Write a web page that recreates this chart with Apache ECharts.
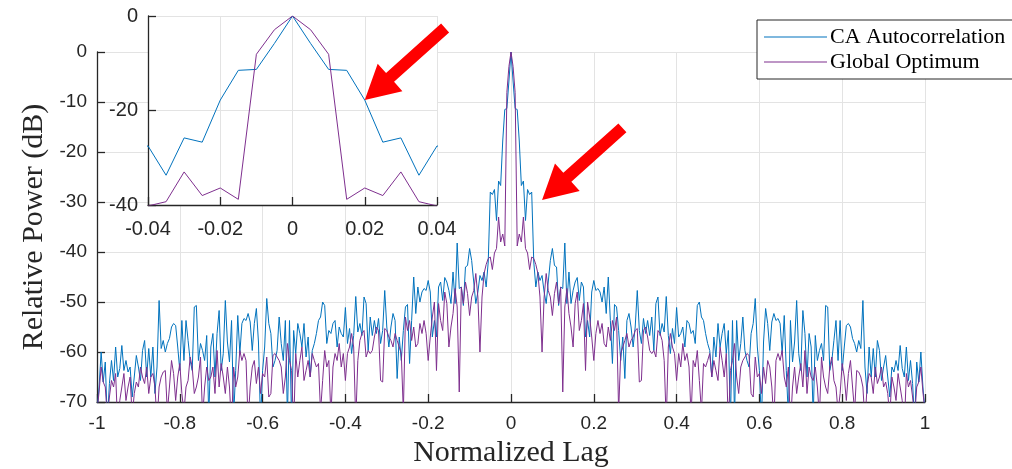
<!DOCTYPE html>
<html><head><meta charset="utf-8">
<script src="https://cdn.jsdelivr.net/npm/echarts@6/dist/echarts.min.js"></script>
<style>html,body{margin:0;padding:0;background:#fff}#c{width:1012px;height:469px}</style>
</head><body><div id="c"></div>
<script>
// ---- data ----
const seriesNames = ['CA Autocorrelation', 'Global Optimum'];
const seriesColors = ['#0072BD', '#7E2F8E'];
const lagStep = 0.005;          // sample spacing in normalized lag
const halfCount = 200;          // samples on each side of zero lag
// one-sided relative power (dB) for lag = 0, 0.005, ..., 1 ; |autocorrelation| is symmetric in lag
const caHalfDb = [0,-5.8,-11.3,-11.5,-17.8,-26.7,-25.8,-33.7,-27.5,-28.5,-28,
-42,-47,-44,-45.7,-44.7,-48,-50.3,-46,-41.7,-39.3,
-42.7,-43,-50.7,-47,-47.3,-38.2,-50.3,-44,-50.3,-47.7,
-46,-45.1,-49.7,-46,-47,-57,-53.7,-57,-48,-45.7,
-47.7,-47.3,-48,-50,-47,-52.3,-45,-53.7,-62.3,-50.5,
-51,-55.7,-61.7,-57,-65.3,-53.7,-52.3,-55,-59,-55,
-47.7,-55.7,-58.3,-53.3,-56.3,-53.7,-56.7,-53,-59.7,-50.3,
-49,-56.7,-54.3,-56,-48.9,-56.7,-60.3,-55.3,-58.3,-51.1,
-57,-56.3,-55,-59,-53.7,-54.3,-56.3,-55.7,-58.3,-50.7,
-50,-53,-53.7,-56.3,-58.3,-59.7,-65,-57,-61,
-54.3,-59,-56.3,-54.3,-60.3,-55.7,-74,-53.7,-73,-53.7,-61.7,-58.3,-53,-59.7,-61.7,-63,-56.3,-54.3,-49.3,-59,-63.7,-74,-58,-51.3,-54.3,-59.7,-54,-52.3,-53.7,-53.3,-54.3,-60.3,-52.7,-63.7,-73,-53.7,
-62,-58,
-49.7,-60.3,-63.7,-51.7,-56.3,-65,-56.3,-59,-73,-56.7,-61.7,-59.7,-58.3,-61.7,-50.7,-51,-63.7,-61.7,-57.7,-53.7,-61.7,-53.7,-63.7,-59,-54.7,-54.3,-55,-57.3,-58.3,-60,-57.7,-59.3,-49.7,-63,-68.3,-59,-65,-59.3,-65,-57.7,-59.7,-65.7,-63,-60.7,-65,-69,-63,-64,-61.7,-63.7,-58.7,-63.3,-65,-59,-65.7,-61.7,-66.3,-74,
-62,-66,-60,-67,-72];
const goHalfDb = [0,-2.9,-8.1,-38.8,-36.4,-38,-33,-39.3,-40.2,-43.5,-41,
-41.3,-42.5,-44.3,-49,-60,-49,-44.3,-47.7,-49,-52.7,
-48.3,-46,-50.3,-47,-68,-51,-47.3,-52.3,-55,-59,
-50.3,-48,-55.7,-53.7,-50.3,-63.7,-50,-53,-57,-61.7,
-56.3,-53.7,-56.3,-54.3,-58.3,-59,-55,-57.7,-53.7,-55.7,
-53,-72,-60.3,-59,-57.7,-56.3,-59,-57.7,-57,-55.7,
-55.3,-66,-65.7,-55.7,-55,-57,-59.7,-60.3,-59.7,-61,
-55.7,-56.3,-57.7,-61.7,-74,-59,-56.3,-59,-60.3,-65.7,
-60.3,-63,-58.3,-61.7,-60.3,-63,-73,-61.7,-63,-59.7,
-65.7,-72,-62.3,-63,-61.7,-60.3,-65,-61.7,-63.7,-65.7,
-59,-61.7,-65,-60.3,-75,-63.7,-61.7,-58.3,-65,-68.3,
-63,-61.7,-61,-60.3,-60.7,-68.3,-69,-61,-65,-64.3,
-68.3,-63,-66.3,-61.7,-63,-67,-74,-61.7,-60.3,-61.7,
-59.7,-65,-67,-63,-75,-67,-63,-68.3,-65,-62.3,
-67,-59.7,-68.3,-63,-65,-65.7,-63,-67,-73,-61,
-65,-67,-68.3,-63,-61,-65.7,-67,-72,-68.3,-62.3,
-65,-69.7,-64.3,-61.7,-67,-72,-63.7,-64,-65,-67,
-74,-67,-64.3,-65,-68.3,-63,-66.3,-65,-63,-67,
-66,-68.3,-73,-65,-67,-69.7,-64.3,-67,-69.7,-75,
-64.3,-67,-65.7,-69,-73,-67,-66,-63,-68,-72];
// axis ranges / ticks
const mainX = {min: -1, max: 1, step: 0.2};
const mainY = {min: -70, max: 0, step: 10};
const insetX = {min: -0.04, max: 0.04, step: 0.02};
const insetY = {min: -40, max: 0, step: 20};
// arrow annotation targets (data coordinates) : [gridIndex, lag, dB]
const arrowTargets = [[1, 0.02, -17.8], [0, 0.075, -29.6]];

// ---- build full two-sided series ----
function fullSeries(half) {
  const out = [];
  for (let k = -halfCount; k <= halfCount; k++) {
    const v = half[Math.abs(k)];
    if (v === undefined) continue;
    out.push([Math.round(k * lagStep * 1000) / 1000, v]);
  }
  return out;
}
const caData = fullSeries(caHalfDb);
const goData = fullSeries(goHalfDb);

const fmt = v => String(Math.round(v * 100) / 100);
const ink = '#262626';
const gridColor = '#e3e3e3';
const tickFont = 'Liberation Sans, Arial, sans-serif';
const serif = 'Liberation Serif, Times New Roman, serif';

function axis(o) {
  return Object.assign({
    type: 'value',
    axisLine: {show: true, onZero: false, lineStyle: {color: ink, width: 1.3}},
    axisTick: {show: true, inside: true, length: 8, lineStyle: {color: ink, width: 1.3}},
    splitLine: {show: true, lineStyle: {color: gridColor, width: 1}},
    axisLabel: {color: ink, fontFamily: tickFont, fontSize: 19, formatter: fmt},
  }, o);
}

const chart = echarts.init(document.getElementById('c'), null, {renderer: 'canvas'});
const option = {
  animation: false,
  backgroundColor: '#fff',
  grid: [
    {left: 97, right: 87, top: 52, bottom: 67, containLabel: false, outerBoundsMode: 'none'},
    {left: 148, top: 16, width: 289, height: 189, containLabel: false, outerBoundsMode: 'none',
     show: true, backgroundColor: '#fff', borderWidth: 0, zlevel: 1}
  ],
  xAxis: [
    axis({gridIndex: 0, min: mainX.min, max: mainX.max, interval: mainX.step,
      axisLabel: {color: ink, fontFamily: tickFont, fontSize: 19, margin: 12, formatter: fmt},
      name: 'Normalized Lag', nameLocation: 'middle', nameGap: 36,
      nameTextStyle: {fontFamily: serif, fontSize: 30, color: ink}}),
    axis({gridIndex: 1, zlevel: 1, min: insetX.min, max: insetX.max, interval: insetX.step,
      axisLabel: {color: ink, fontFamily: tickFont, fontSize: 20, margin: 14, formatter: fmt}})
  ],
  yAxis: [
    axis({gridIndex: 0, min: mainY.min, max: mainY.max, interval: mainY.step,
      axisLabel: {color: ink, fontFamily: tickFont, fontSize: 19, margin: 10, formatter: fmt},
      name: 'Relative Power (dB)', nameLocation: 'middle', nameGap: 45,
      nameTextStyle: {fontFamily: serif, fontSize: 30, color: ink}}),
    axis({gridIndex: 1, zlevel: 1, min: insetY.min, max: insetY.max, interval: insetY.step,
      axisLabel: {color: ink, fontFamily: tickFont, fontSize: 20, margin: 10, formatter: fmt}})
  ],
  legend: {
    left: 757, top: 20, orient: 'vertical', zlevel: 2,
    icon: 'rect', itemWidth: 63, itemHeight: 1.2, itemGap: 3,
    padding: [6, 40, 6, 7],
    backgroundColor: '#fff', borderColor: ink, borderWidth: 1, borderRadius: 0,
    textStyle: {fontFamily: serif, fontSize: 22, color: '#000', lineHeight: 22, padding: [0, 0, 0, -2]},
    data: seriesNames
  },
  series: [
    {type: 'line', name: seriesNames[0], xAxisIndex: 0, yAxisIndex: 0, data: caData, symbol: 'none',
     clip: true, lineStyle: {width: 1, color: seriesColors[0]}, itemStyle: {color: seriesColors[0]}},
    {type: 'line', name: seriesNames[1], xAxisIndex: 0, yAxisIndex: 0, data: goData, symbol: 'none',
     clip: true, lineStyle: {width: 1, color: seriesColors[1]}, itemStyle: {color: seriesColors[1]}},
    {type: 'line', name: seriesNames[0], xAxisIndex: 1, yAxisIndex: 1, data: caData, symbol: 'none', zlevel: 1,
     clip: true, lineStyle: {width: 1, color: seriesColors[0]}, itemStyle: {color: seriesColors[0]}},
    {type: 'line', name: seriesNames[1], xAxisIndex: 1, yAxisIndex: 1, data: goData, symbol: 'none', zlevel: 1,
     clip: true, lineStyle: {width: 1, color: seriesColors[1]}, itemStyle: {color: seriesColors[1]}}
  ]
};
chart.setOption(option);

// red arrow annotations, anchored at data points via the chart's own coordinate conversion
const arrowDir = [0.744, -0.668]; // unit vector from tip to tail (screen)
const arrowLen = 108, headLen = 34, headHalf = 18.5, shaftHalf = 6;
const graphics = arrowTargets.map(t => {
  const p = chart.convertToPixel({gridIndex: t[0]}, [t[1], t[2]]);
  const u = arrowDir, n = [-u[1], u[0]];
  const at = (d, w) => [p[0] + u[0] * d + n[0] * w, p[1] + u[1] * d + n[1] * w];
  return {
    type: 'polygon', silent: true, zlevel: 3, z: 100,
    shape: {points: [p, at(headLen, headHalf), at(headLen, shaftHalf), at(arrowLen, shaftHalf),
                     at(arrowLen, -shaftHalf), at(headLen, -shaftHalf), at(headLen, -headHalf)]},
    style: {fill: '#ff0000'}
  };
});
chart.setOption({graphic: graphics});
</script></body></html>
